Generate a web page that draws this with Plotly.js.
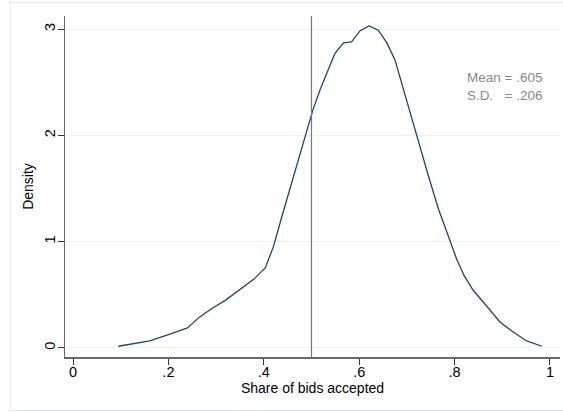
<!DOCTYPE html>
<html><head><meta charset="utf-8">
<script src="https://cdn.plot.ly/plotly-3.0.1.min.js"></script>
<style>
html,body{margin:0;padding:0;background:#fff;overflow:hidden;}
#frame{position:absolute;left:10px;top:2px;width:600px;height:409px;border:1px solid #e3eaec;box-sizing:border-box;pointer-events:none;z-index:5;}
#chart{position:absolute;left:0;top:0;width:563px;height:412px;}
</style></head>
<body>
<div id="chart"></div>
<div id="frame"></div>
<script>
const shareX = [0.095, 0.13, 0.161, 0.20, 0.240, 0.265, 0.291, 0.32, 0.350, 0.38, 0.403, 0.42, 0.44, 0.46, 0.48, 0.503, 0.518, 0.532, 0.549, 0.567, 0.584, 0.602, 0.621, 0.640, 0.658, 0.675, 0.692, 0.71, 0.727, 0.745, 0.766, 0.783, 0.804, 0.82, 0.839, 0.868, 0.895, 0.92, 0.951, 0.983];
const densityY = [0.016, 0.04, 0.066, 0.125, 0.188, 0.29, 0.371, 0.45, 0.55, 0.65, 0.753, 0.951, 1.27, 1.58, 1.90, 2.24, 2.43, 2.58, 2.77, 2.87, 2.88, 2.985, 3.03, 2.99, 2.87, 2.71, 2.44, 2.17, 1.91, 1.62, 1.31, 1.108, 0.84, 0.68, 0.543, 0.39, 0.245, 0.16, 0.066, 0.016];
const xTickVals = [0, 0.2, 0.4, 0.6, 0.8, 1];
const xTickText = ["0", ".2", ".4", ".6", ".8", "1"];
const yTickVals = [0, 1, 2, 3];
const yTickText = ["0", "1", "2", "3"];
const refLineX = 0.5;
const statsText = "Mean = .605<br>S.D.\u00a0\u00a0\u00a0= .206";

const font = "Liberation Sans, Arial, Helvetica, sans-serif";
Plotly.newPlot("chart", [{
  x: shareX, y: densityY, type: "scatter", mode: "lines",
  line: {color: "#1a476f", width: 1.3}, hoverinfo: "skip"
}], {
  width: 563, height: 412,
  margin: {l: 65, r: 3, t: 16, b: 55.3},
  paper_bgcolor: "rgba(0,0,0,0)", plot_bgcolor: "#fff",
  showlegend: false,
  font: {family: font, color: "#000", size: 14},
  xaxis: {
    range: [-0.0168, 1.021], tickvals: xTickVals, ticktext: xTickText,
    showgrid: false, zeroline: false, showline: true, linecolor: "#666", linewidth: 1.5,
    ticks: "outside", ticklen: 6, tickcolor: "#333", tickwidth: 1,
    ticklabelstandoff: -5,
    tickfont: {size: 14.5, family: font, color: "#000"},
    title: {text: "Share of bids accepted", font: {size: 14, family: font, color: "#000"}, standoff: 4}
  },
  yaxis: {
    range: [-0.085, 3.123], tickvals: yTickVals, ticktext: yTickText, tickangle: -90,
    showgrid: true, gridcolor: "#eaf2f3", gridwidth: 1,
    zeroline: false, showline: true, linecolor: "#666", linewidth: 1.5,
    ticks: "outside", ticklen: 6, tickcolor: "#333", tickwidth: 1,
    ticklabelstandoff: -3,
    tickfont: {size: 14.5, family: font, color: "#000"},
    title: {text: "Density", font: {size: 14, family: font, color: "#000"}, standoff: 5}
  },
  shapes: [{type: "line", xref: "x", yref: "paper", x0: refLineX, x1: refLineX, y0: 0, y1: 1,
            line: {color: "#777", width: 1.2}}],
  annotations: [{xref: "paper", yref: "paper", x: (465-65)/495, y: (356.7-68)/340.7,
                 xanchor: "left", yanchor: "top", align: "left", showarrow: false,
                 text: statsText, font: {size: 13.5, family: font, color: "#888"}}]
}, {displayModeBar: false, staticPlot: true});
</script>
</body></html>
